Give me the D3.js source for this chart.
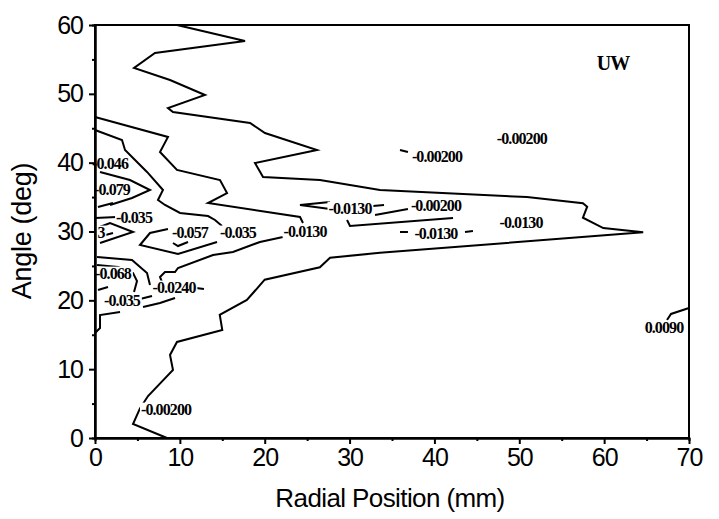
<!DOCTYPE html>
<html>
<head>
<meta charset="utf-8">
<script src="https://cdn.jsdelivr.net/npm/d3@7"></script>
<style>
  body { margin: 0; background: #fff; }
  text { font-family: "Liberation Sans", Arial, sans-serif; }
</style>
</head>
<body>
<svg id="chart" width="719" height="519"></svg>
<script>
// Axis ticks
const xTicks = [0, 10, 20, 30, 40, 50, 60, 70];
const yTicks = [0, 10, 20, 30, 40, 50, 60];
const xMinor = [5, 15, 25, 35, 45, 55, 65];
const yMinor = [5, 15, 25, 35, 45, 55];

// Contour polylines, points as [radial position mm, angle deg]
const contourOuter = [
  [9.66, 60], [17.68, 57.68], [7.07, 55.94], [4.60, 53.76], [8.84, 52.01],
  [12.96, 49.83], [8.60, 47.94], [9.19, 47.36], [18.27, 45.76], [20.03, 44.31],
  [26.16, 41.84], [18.85, 39.95], [19.80, 37.92], [26.51, 37.48], [33.58, 36.03],
  [50.9, 35.0], [57.5, 34.1], [58.0, 33.6], [57.5, 32.0], [59.9, 30.5],
  [64.6, 29.9], [33.58, 26.9], [27.7, 26.2], [26.5, 24.8], [20.0, 23.0],
  [17.9, 20.05], [14.7, 17.9], [15.0, 15.7], [9.66, 13.95], [8.84, 12.06],
  [9.19, 9.88], [6.25, 6.1], [5.3, 4.3], [4.48, 2.03], [8.48, 0]
];
const contourUpper = [
  [0, 46.64], [8.60, 43.73], [7.66, 41.55], [9.66, 38.94], [14.73, 37.48],
  [15.56, 35.59], [13.32, 34.14], [24.16, 32.11], [24.51, 31.24]
];
const contourMid = [
  [0, 44.75], [3.18, 43.29], [3.54, 41.84], [5.07, 39.95], [6.13, 38.65],
  [8.01, 36.03], [7.42, 34.58], [8.25, 33.85], [10.02, 32.69], [13.32, 32.25],
  [14.14, 31.67], [14.97, 30.80]
];
const contourLowerBranch = [
  [22.15, 29.20], [19.44, 28.48], [16.26, 27.02], [13.91, 26.59], [9.78, 24.70],
  [9.43, 24.12], [8.25, 24.12], [7.66, 23.39], [7.90, 22.66]
];
const contourCore = [
  [8.60, 30.36], [6.48, 29.78], [5.30, 28.04], [9.78, 26.73], [14.38, 28.48]
];
const contourCoreInner = [[9.19, 28.33], [9.78, 27.89], [10.96, 28.48]];
const contourPeakV = [
  [0.59, 38.65], [4.12, 37.48], [6.48, 36.03], [4.36, 34.87], [1.77, 33.85]
];
const contourWedge = [[27.69, 34.29], [24.16, 33.85], [27.69, 33.27]];
const contourWedgeTail = [[32.76, 33.71], [34.06, 33.85]];
const contourBand1 = [[33.0, 32.40], [36.88, 33.27]];
const contourBand2 = [[29.70, 31.67], [30.05, 30.80], [42.19, 31.96]];
const contourBand3a = [[35.94, 29.93], [36.88, 29.93]];
const contourBand3b = [[43.60, 29.93], [44.54, 30.07]];
const contourDash = [[35.94, 41.84], [36.88, 41.55]];
const contourEdge = [[70, 18.89], [67.88, 18.02], [67.41, 17.14]];
const contourLeft1 = [[0, 31.96], [2.59, 32.11]];
const contourLeft2 = [[0.35, 33.56], [2.12, 34.14]];
const contourLeft3 = [[0.24, 30.51], [1.77, 31.24], [4.48, 29.93], [0.59, 28.33]];
const contourLeft4 = [[0.35, 29.20], [2.12, 29.78]];
const contourLeft5 = [[0.24, 26.30], [4.36, 25.86], [6.13, 23.97], [6.48, 22.23]];
const contourLeft6 = [[0.24, 25.13], [2.71, 24.84], [4.48, 23.97], [4.95, 22.81], [4.60, 21.21]];
const contourLeft7 = [[5.30, 20.19], [6.72, 20.63]];
const contourLeft8 = [[5.66, 19.03], [7.66, 19.61], [9.43, 20.34]];
const contourLeft9 = [[11.90, 21.79], [12.84, 21.65]];
const contourLeft10 = [[0, 15.25], [0.59, 15.98], [0.59, 17.87], [2.95, 18.31]];
const contourLeft11 = [[0.35, 21.50], [1.53, 21.94]];

// Contour level labels: [radial mm, angle deg, text]
const contourLabels = [
  [1.77, 39.95, "-0.046"],
  [2.0, 36.18, "-0.079"],
  [4.6, 32.11, "-0.035"],
  [0.7, 29.93, "3"],
  [11.19, 29.93, "-0.057"],
  [16.85, 29.93, "-0.035"],
  [24.75, 30.07, "-0.0130"],
  [30.05, 33.41, "-0.0130"],
  [40.18, 33.85, "-0.00200"],
  [40.18, 29.78, "-0.0130"],
  [50.2, 31.38, "-0.0130"],
  [40.3, 40.97, "-0.00200"],
  [50.3, 43.58, "-0.00200"],
  [2.12, 23.97, "-0.068"],
  [9.31, 21.94, "-0.0240"],
  [3.18, 20.05, "-0.035"],
  [8.37, 4.21, "-0.00200"],
  [67.05, 16.13, "0.0090"]
];

const contours = [
  contourOuter, contourUpper, contourMid, contourLowerBranch, contourCore,
  contourCoreInner, contourPeakV, contourWedge, contourWedgeTail, contourBand1,
  contourBand2, contourBand3a, contourBand3b, contourDash, contourEdge,
  contourLeft1, contourLeft2, contourLeft3, contourLeft4, contourLeft5,
  contourLeft6, contourLeft7, contourLeft8, contourLeft9, contourLeft10, contourLeft11
];

const svg = d3.select("#chart");
const x = d3.scaleLinear().domain([0, 70]).range([95, 689]);
const y = d3.scaleLinear().domain([0, 60]).range([438, 25]);

const line = d3.line().x(d => x(d[0])).y(d => y(d[1]));

svg.append("g")
  .selectAll("path")
  .data(contours)
  .join("path")
  .attr("d", line)
  .attr("fill", "none")
  .attr("stroke", "#000")
  .attr("stroke-width", 2)
  .attr("stroke-linejoin", "miter");

// Level labels, each on a white patch that breaks the line beneath it
const lab = svg.append("g").selectAll("g")
  .data(contourLabels)
  .join("g")
  .attr("transform", d => `translate(${x(d[0])},${y(d[1])})`);
lab.append("text")
  .attr("text-anchor", "middle")
  .attr("dy", "0.35em")
  .style("font-family", "'Liberation Serif', 'Times New Roman', serif")
  .style("font-weight", "bold")
  .style("font-size", "16px")
  .style("letter-spacing", "-0.9px")
  .text(d => d[2]);
lab.each(function () {
  const g = d3.select(this);
  const bb = g.select("text").node().getBBox();
  g.insert("rect", "text")
    .attr("x", bb.x - 1).attr("y", bb.y + 2)
    .attr("width", bb.width + 2).attr("height", bb.height - 4)
    .attr("fill", "#fff");
});

// Panel tag
svg.append("text")
  .attr("x", x(61.04)).attr("y", y(54.48))
  .attr("text-anchor", "middle").attr("dy", "0.35em")
  .style("font-family", "'Liberation Serif', 'Times New Roman', serif")
  .style("font-weight", "bold")
  .style("font-size", "20px")
  .style("letter-spacing", "-1px")
  .text("UW");

// Frame
svg.append("rect")
  .attr("x", x(0)).attr("y", y(60))
  .attr("width", x(70) - x(0)).attr("height", y(0) - y(60))
  .attr("fill", "none").attr("stroke", "#000").attr("stroke-width", 2);

// Axes
svg.append("g")
  .attr("transform", `translate(0,${y(0)})`)
  .call(d3.axisBottom(x).tickValues(xTicks).tickSizeInner(6).tickSizeOuter(0).tickPadding(4));
svg.append("g")
  .attr("transform", `translate(0,${y(0)})`)
  .call(d3.axisBottom(x).tickValues(xMinor).tickSize(3).tickFormat(""));
svg.append("g")
  .attr("transform", `translate(${x(0)},0)`)
  .call(d3.axisLeft(y).tickValues(yTicks).tickSizeInner(6).tickSizeOuter(0).tickPadding(6));
svg.append("g")
  .attr("transform", `translate(${x(0)},0)`)
  .call(d3.axisLeft(y).tickValues(yMinor).tickSize(3).tickFormat(""));

svg.selectAll(".domain").attr("stroke-width", 2);
svg.selectAll(".tick line").attr("stroke-width", 2);
svg.selectAll(".tick text")
  .style("font-family", "'Liberation Sans', Arial, sans-serif")
  .style("font-size", "25px")
  .style("letter-spacing", "-1px")
  .attr("fill", "#000");

svg.append("text")
  .attr("x", 390).attr("y", 507)
  .attr("text-anchor", "middle")
  .style("font-size", "26px")
  .style("letter-spacing", "-0.6px")
  .text("Radial Position (mm)");

svg.append("text")
  .attr("transform", "translate(31,231) rotate(-90)")
  .attr("text-anchor", "middle")
  .style("font-size", "27px")
  .style("letter-spacing", "-0.3px")
  .text("Angle (deg)");
</script>
</body>
</html>
